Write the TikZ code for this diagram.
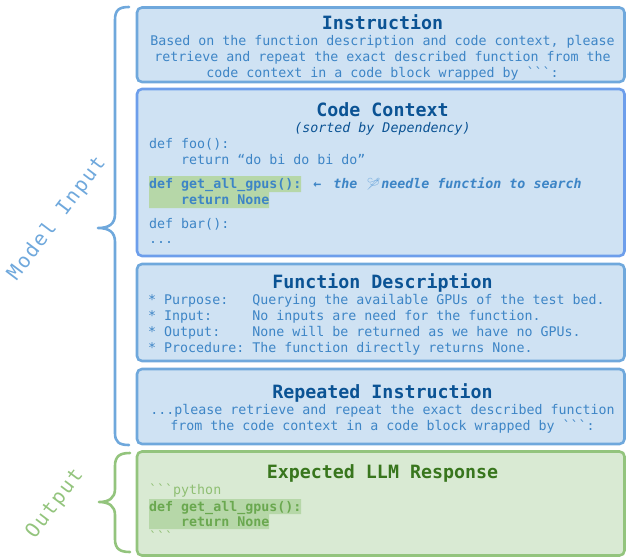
\documentclass[tikz,border=0pt]{standalone}
\usepackage{fontspec}
\setmonofont{DejaVu Sans Mono}
\newfontfamily\mono{DejaVu Sans Mono}
\newfontfamily\labelfont[LetterSpace=9]{DejaVu Sans Mono}
\newfontfamily\emojifont{Noto Emoji}
\newcommand\bts{\textasciigrave\textasciigrave\textasciigrave}
\definecolor{bfill}{HTML}{CFE2F3}
\definecolor{bline}{HTML}{6FA8DC}
\definecolor{cline}{HTML}{6D9EEB}
\definecolor{btitle}{HTML}{0B5394}
\definecolor{btext}{HTML}{3D85C6}
\definecolor{gfill}{HTML}{D9EAD3}
\definecolor{gline}{HTML}{93C47D}
\definecolor{gtitle}{HTML}{38761D}
\definecolor{gtext}{HTML}{6AA84F}
\definecolor{glight}{HTML}{8FBF73}
\definecolor{hl}{HTML}{B6D7A8}
\tikzset{
  box/.style={line width=2.6pt, rounded corners=5pt, inner sep=0pt, outer sep=0pt, anchor=north west, minimum width=487.5pt},
  bluebox/.style={box, draw=bline, fill=bfill},
  codebox/.style={box, draw=cline, fill=bfill},
  greenbox/.style={box, draw=gline, fill=gfill},
  ttl/.style={font=\mono\bfseries\fontsize{18.3}{20}\selectfont, inner sep=0pt, anchor=base},
  titleB/.style={ttl, text=btitle},
  titleG/.style={ttl, text=gtitle},
  txt/.style={font=\mono\fontsize{13.3}{15.5}\selectfont, inner sep=0pt},
  lineC/.style={txt, text=btext, anchor=base},
  lineL/.style={txt, text=btext, anchor=base west},
  lineG/.style={txt, text=gtext, anchor=base west},
  brace/.style={line width=2.6pt, line cap=round, line join=round},
  sidelabel/.style={rotate=53, font=\labelfont\fontsize{20}{22}\selectfont, inner sep=0pt}
}
\begin{document}
\begin{tikzpicture}[x=1pt,y=-1pt]
\useasboundingbox (0,0) rectangle (627,558);
% boxes
\node[bluebox, minimum height=74.5pt] (instr) at (137,7.5) {};
\node[codebox, minimum height=167pt] (code) at (137,89) {};
\node[bluebox, minimum height=97pt] (desc) at (137,264) {};
\node[bluebox, minimum height=75pt] (rep) at (137,369) {};
\node[greenbox, minimum height=104pt] (exp) at (137,451.5) {};
% highlights
\fill[hl] (149,176) -- (301,176) -- (301,192) -- (269,192) -- (269,208) -- (149,208) -- cycle;
\fill[hl] (149,499) -- (301,499) -- (301,514) -- (269,514) -- (269,529) -- (149,529) -- cycle;
% Instruction
\node[titleB] (instrT) at (382.5,29.3) {Instruction};
\node[lineC] (instr1) at (382.5,45.5) {Based on the function description and code context, please};
\node[lineC] (instr2) at (382.5,61) {retrieve and repeat the exact described function from the};
\node[lineC] (instr3) at (382.5,77) {code context in a code block wrapped by \bts:};
% Code Context
\node[titleB] (codeT) at (382.5,116.7) {Code Context};
\node[txt, text=btitle, anchor=base] (codeS) at (382.5,132) {\itshape (sorted by Dependency)};
\node[lineL] (c1) at (149,148.6) {def foo():};
\node[lineL] (c2) at (149,164.6) {\hphantom{xxxx}return “do bi do bi do”};
\node[lineL] (c3) at (149,188) {\bfseries def get\_all\_gpus():\ \itshape\makebox[16pt]{←}\ the\ \makebox[16pt]{\emojifont\fontsize{12}{12}\selectfont\color{bline}🪡}needle function to search};
\node[lineL] (c4) at (149,204) {\bfseries\hphantom{xxxx}return None};
\node[lineL] (c5) at (149,228) {def bar():};
\node[lineL] (c6) at (149,243.5) {...};
% Function Description
\node[titleB] (descT) at (382.5,288.3) {Function Description};
\node[lineL] (d1) at (148,304.3) {*\ Purpose:\ \ \ Querying the available GPUs of the test bed.};
\node[lineL] (d2) at (148,320.3) {*\ Input:\ \ \ \ \ No inputs are need for the function.};
\node[lineL] (d3) at (148,336.3) {*\ Output:\ \ \ \ None will be returned as we have no GPUs.};
\node[lineL] (d4) at (148,352.3) {*\ Procedure:\ The function directly returns None.};
% Repeated Instruction
\node[titleB] (repT) at (382.5,398.3) {Repeated Instruction};
\node[lineC] (rep1) at (382.5,414.3) {...please retrieve and repeat the exact described function};
\node[lineC] (rep2) at (382.5,430.3) {from the code context in a code block wrapped by \bts:};
% Expected LLM Response
\node[titleG] (expT) at (382.5,478.3) {Expected LLM Response};
\node[lineG, text=glight] (e1) at (149,494.3) {\bts python};
\node[lineG] (e2) at (149,511) {\bfseries def get\_all\_gpus():};
\node[lineG] (e3) at (149,526) {\bfseries\hphantom{xxxx}return None};
\node[lineG, text=glight] (e4) at (149,541) {\bts};
% braces
\draw[brace, draw=bline] (129,7) .. controls (119,7) and (115,10) .. (115,20) -- (115,214) .. controls (115,224) and (109,228) .. (98,228) .. controls (109,228) and (115,232) .. (115,242) -- (115,433) .. controls (115,442) and (119,445) .. (129,445);
\draw[brace, draw=gline] (130,453) .. controls (120,453) and (115,456) .. (115,466) -- (115,489) .. controls (115,498) and (109,502) .. (99,502) .. controls (109,502) and (115,506) .. (115,515) -- (115,539) .. controls (115,549) and (120,552) .. (130,552);
% side labels
\node[sidelabel, text=bline] (inLabel) at (57,219) {Model Input};
\node[sidelabel, text=gline] (outLabel) at (55,504) {Output};
\end{tikzpicture}
\end{document}
